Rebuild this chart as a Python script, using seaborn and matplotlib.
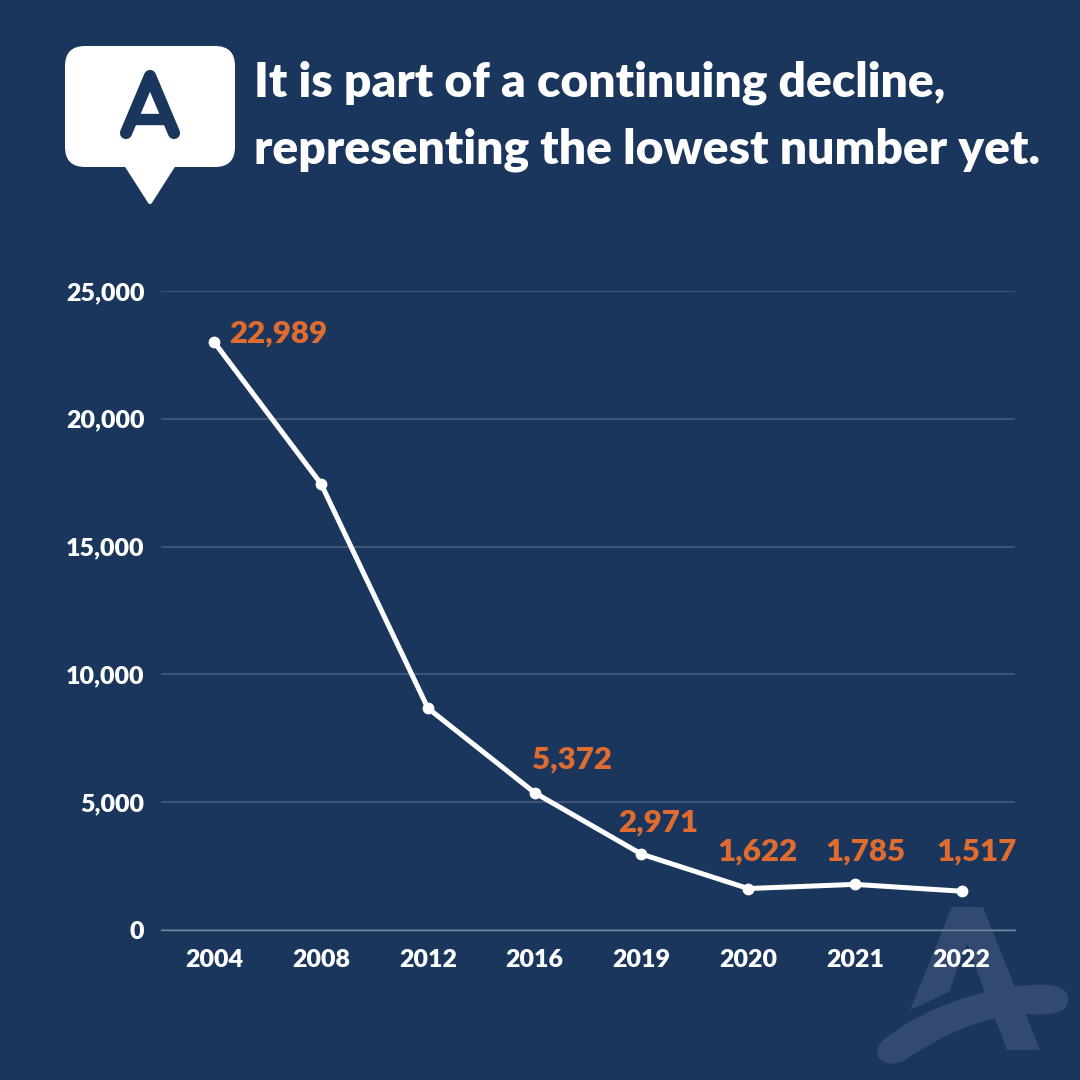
"""
plot.py - Line chart of the continuing decline, on a dark navy card.
"""

import pandas as pd
import seaborn as sns
import matplotlib.pyplot as plt
from matplotlib.patches import FancyBboxPatch, PathPatch, Polygon
from matplotlib.path import Path

years = ["2004", "2008", "2012", "2016", "2019", "2020", "2021", "2022"]
counts = [22989, 17450, 8680, 5372, 2971, 1622, 1785, 1517]
labelled_years = ["2004", "2016", "2019", "2020", "2021", "2022"]
y_ticks = [0, 5000, 10000, 15000, 20000, 25000]
title_lines = ["It is part of a continuing decline,", "representing the lowest number yet."]

NAVY = "#1b365d"
ORANGE = "#e06c2f"
WHITE = "#ffffff"
GRID = "#475d7f"
TEXT_WEIGHT = "heavy"

# label offset from its point, in pixels
label_offsets = {
    "2004": (64, 9),
    "2016": (37, 33),
    "2019": (17, 32),
    "2020": (9, 37),
    "2021": (11, 33),
    "2022": (15, 40),
}


def draw_decorations(fig):
    """Speech bubble logo, title and faint watermark, in pixel coordinates."""
    bg = fig.add_axes([0, 0, 1, 1], zorder=0)
    bg.set_xlim(0, 1080)
    bg.set_ylim(1080, 0)
    bg.axis("off")

    # bubble
    bg.add_patch(FancyBboxPatch((65, 46), 170, 121, boxstyle="round,pad=0,rounding_size=20",
                                fc=WHITE, ec="none"))
    bg.add_patch(Polygon([(127, 166), (173, 166), (150, 202)], fc=WHITE, ec=WHITE,
                         lw=3, joinstyle="round"))
    bg.plot([126, 150, 174], [133, 76, 133], color=NAVY, lw=8.8,
            solid_capstyle="round", solid_joinstyle="round")
    bg.plot([134, 166], [119, 119], color=NAVY, lw=8.2, solid_capstyle="butt")

    # watermark
    a_shape = [(952, 907), (983, 907), (1040, 1050), (1007, 1050), (995, 1018),
               (984, 990), (967, 943), (949, 992), (910, 1010)]
    bg.add_patch(Polygon(a_shape, fc="#324a70", ec="none"))
    verts = [(890, 1035), (925, 1008), (975, 992), (1015, 986),
             (1045, 984), (1068, 982), (1068, 1000),
             (1068, 1016), (1045, 1015), (1025, 1014),
             (985, 1017), (950, 1030), (905, 1060),
             (885, 1072), (862, 1052), (890, 1035)]
    codes = [Path.MOVETO] + [Path.CURVE4] * 15
    bg.add_patch(PathPatch(Path(verts, codes), fc="#324a70", ec="none"))

    for line, y in zip(title_lines, [83, 150]):
        bg.text(254, y, line, color=WHITE, fontsize=34.6, fontweight=TEXT_WEIGHT,
                ha="left", va="center")


def main():
    sns.set_theme(style="white")
    plt.rcParams["font.family"] = ["Lato", "DejaVu Sans"]

    df = pd.DataFrame({"year": years, "count": counts})

    fig = plt.figure(figsize=(10.8, 10.8), dpi=100, facecolor=NAVY)
    draw_decorations(fig)

    ax = fig.add_axes([161 / 1080, 150 / 1080, 854 / 1080, 639 / 1080], zorder=1)
    ax.patch.set_alpha(0)
    sns.lineplot(data=df, x="year", y="count", sort=False, color=WHITE, lw=3.6,
                 marker="o", markersize=8.5, markeredgewidth=0, ax=ax)

    ax.set_xlim(-0.5, len(years) - 0.5)
    ax.set_ylim(y_ticks[0], y_ticks[-1])
    ax.set_yticks(y_ticks)
    ax.set_yticklabels([f"{t:,}" for t in y_ticks])
    ax.set_xlabel("")
    ax.set_ylabel("")
    ax.tick_params(axis="both", length=0, colors=WHITE, labelsize=18)
    ax.tick_params(axis="x", pad=13.5)
    ax.tick_params(axis="y", pad=12)
    for lab in ax.get_xticklabels() + ax.get_yticklabels():
        lab.set_fontweight(TEXT_WEIGHT)

    ax.yaxis.grid(True, color=GRID, lw=1.2)
    ax.xaxis.grid(False)
    ax.set_axisbelow(True)
    sns.despine(ax=ax, left=True, bottom=True)
    ax.axhline(0, color="#7587a0", lw=1.0, zorder=1, clip_on=False)

    for year, value in zip(years, counts):
        if year in labelled_years:
            ax.annotate(f"{value:,}", (years.index(year), value),
                        xytext=label_offsets[year], textcoords="offset pixels",
                        color=ORANGE, fontsize=22.5, fontweight=TEXT_WEIGHT,
                        ha="center", va="center")

    fig.savefig("out.png", dpi=100, facecolor=NAVY)


if __name__ == "__main__":
    main()
